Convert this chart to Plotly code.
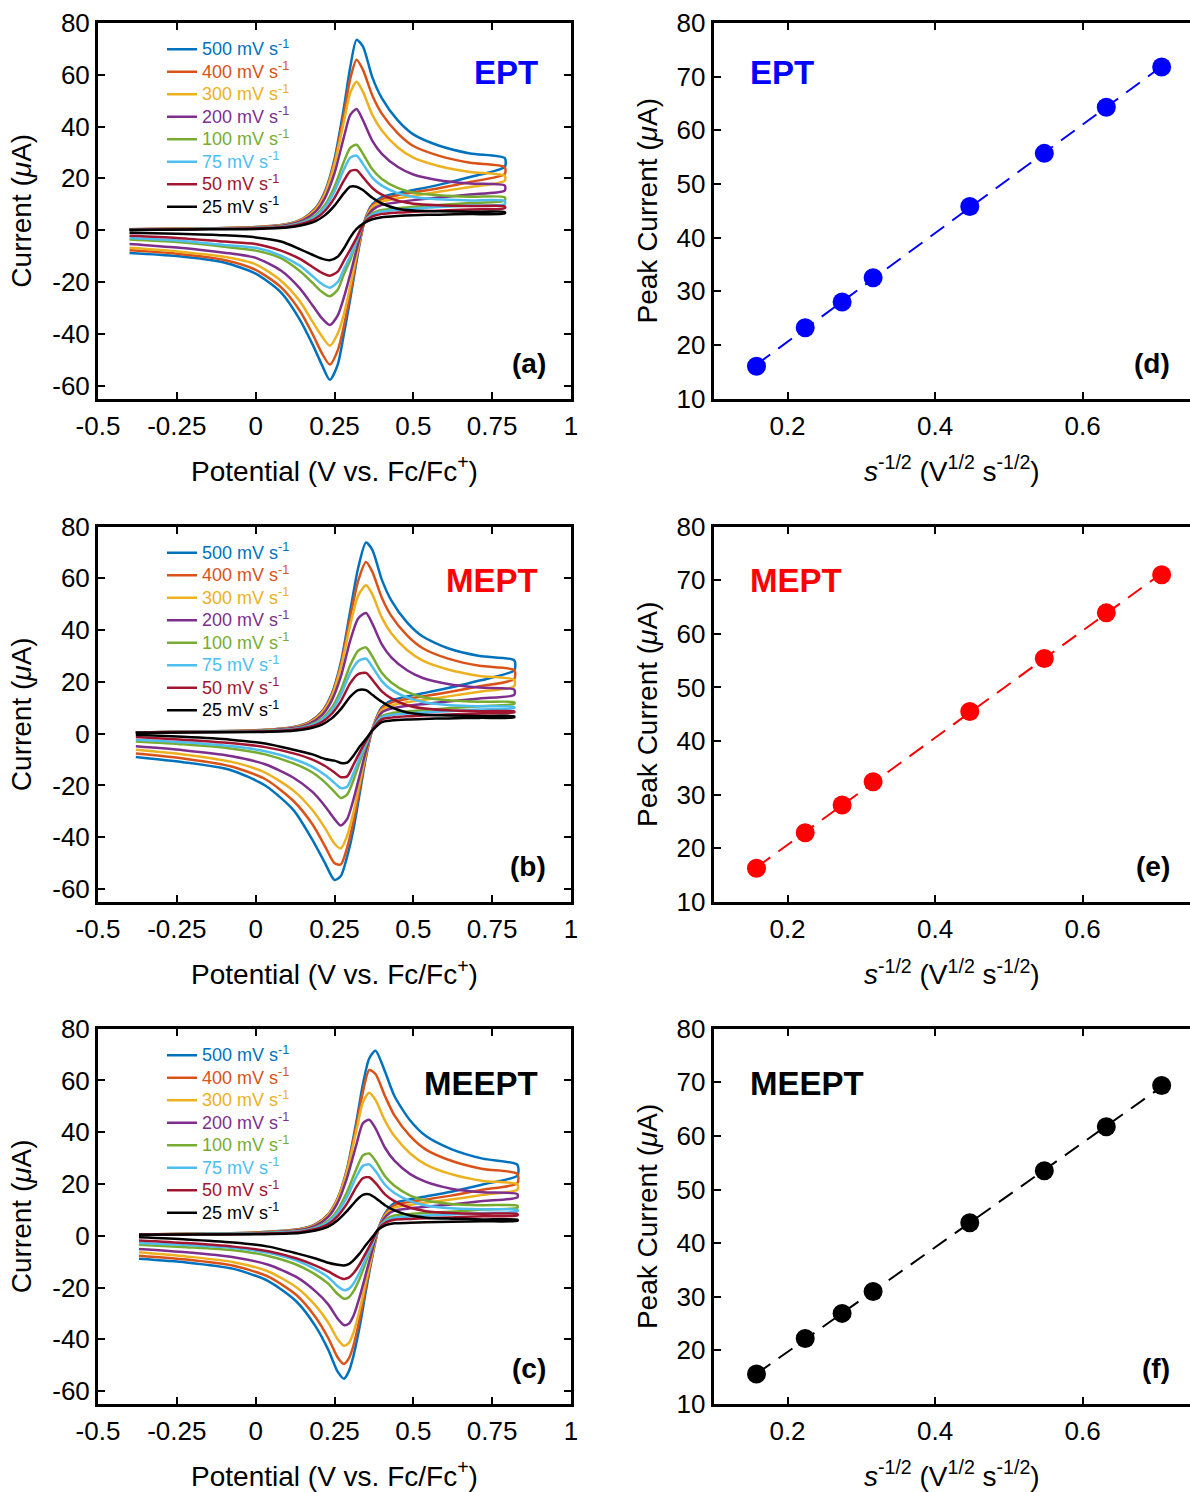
import numpy as np
import plotly.graph_objects as go
from plotly.subplots import make_subplots

W, H = 1190, 1492
FONT = "Liberation Sans, Arial, sans-serif"

rates = ["500", "400", "300", "200", "100", "75", "50", "25"]
colors = ["#0072BD", "#D95319", "#EDB120", "#7E2F8E", "#77AC30", "#4DBEEE", "#A2142F", "#000000"]

# ---------------- panel (a) EPT ----------------
Ea_fwd = [-0.40, -0.20, 0.00, 0.10, 0.15, 0.19, 0.22, 0.25, 0.28, 0.30, 0.32, 0.34, 0.37, 0.40, 0.45, 0.50, 0.58, 0.68, 0.79]
Ia_fwd = [
    [0.4, 0.6, 1.2, 2.4, 4.5, 8.5, 15.0, 27.5, 47.5, 63.0, 73.5, 71.0, 59.0, 51.0, 42.5, 37.0, 32.7, 29.6, 27.8],
    [0.4, 0.6, 1.2, 2.3, 4.4, 8.3, 14.5, 26.5, 45.0, 58.5, 65.8, 62.0, 52.0, 45.0, 37.5, 32.5, 28.8, 26.0, 24.3],
    [0.4, 0.6, 1.1, 2.2, 4.2, 8.0, 14.0, 25.5, 42.0, 53.0, 57.3, 53.5, 44.5, 38.5, 32.0, 28.0, 24.8, 22.5, 21.0],
    [0.4, 0.5, 1.0, 2.0, 3.8, 7.2, 12.5, 22.0, 36.0, 44.5, 46.8, 42.5, 34.5, 29.5, 24.5, 21.5, 19.3, 18.0, 17.2],
    [0.3, 0.5, 0.9, 1.6, 3.2, 5.8, 9.8, 16.8, 26.5, 31.8, 33.0, 29.5, 23.5, 19.8, 16.3, 14.5, 13.5, 12.9, 12.7],
    [0.3, 0.5, 0.8, 1.5, 3.0, 5.3, 8.8, 15.0, 23.5, 28.0, 28.8, 25.6, 20.3, 17.2, 14.3, 12.8, 11.9, 11.5, 11.3],
    [0.2, 0.4, 0.7, 1.3, 2.6, 4.5, 7.5, 12.5, 19.2, 22.8, 23.2, 20.5, 16.3, 13.7, 11.4, 10.2, 9.6, 9.3, 9.2],
    [0.1, 0.3, 0.5, 1.0, 2.0, 3.5, 5.8, 9.5, 14.3, 16.8, 16.8, 15.5, 12.5, 10.3, 8.3, 7.6, 7.3, 7.1, 7.0],
]
Ea_rev = [0.79, 0.68, 0.58, 0.50, 0.45, 0.40, 0.37, 0.345, 0.32, 0.30, 0.28, 0.26, 0.235, 0.21, 0.18, 0.14, 0.08, 0.00, -0.10, -0.25, -0.40]
Ia_rev = [
    [24.5, 20.5, 17.5, 15.5, 14.3, 12.8, 10.0, 3.5, -12.0, -26.5, -40.0, -52.0, -57.8, -52.0, -44.0, -34.5, -24.0, -16.8, -12.5, -10.0, -8.8],
    [21.7, 18.6, 16.2, 14.6, 13.5, 12.0, 9.5, 3.3, -11.0, -24.5, -36.9, -46.5, -51.9, -47.5, -40.0, -31.1, -22.0, -15.3, -11.5, -9.1, -7.8],
    [19.1, 16.7, 14.8, 13.3, 12.3, 11.0, 8.8, 3.2, -9.5, -21.5, -32.4, -40.0, -44.6, -41.0, -35.3, -27.4, -19.5, -13.2, -10.3, -8.2, -6.8],
    [15.3, 13.8, 12.6, 11.6, 10.8, 9.8, 7.8, 3.2, -7.5, -17.0, -25.9, -33.0, -36.6, -34.0, -29.0, -22.5, -15.6, -10.7, -8.7, -6.7, -5.3],
    [11.4, 10.5, 9.7, 9.0, 8.5, 7.8, 6.5, 3.2, -4.5, -11.5, -16.9, -23.0, -25.5, -23.8, -20.3, -15.8, -10.8, -7.9, -6.4, -4.6, -3.6],
    [10.1, 9.5, 8.9, 8.3, 7.9, 7.2, 6.0, 3.2, -4.0, -10.0, -15.0, -20.0, -22.2, -20.8, -17.7, -13.7, -9.8, -6.8, -5.7, -4.0, -3.0],
    [8.5, 8.0, 7.5, 7.1, 6.8, 6.3, 5.3, 3.0, -3.0, -7.5, -11.8, -16.0, -17.6, -16.5, -14.2, -11.1, -7.9, -5.3, -4.4, -3.0, -2.2],
    [6.5, 6.2, 6.0, 5.8, 5.5, 5.0, 4.2, 2.8, 0.5, -2.8, -7.0, -10.3, -11.6, -11.0, -9.5, -7.3, -4.4, -2.8, -2.0, -1.4, -1.0],
]

# ---------------- panel (b) MEPT ----------------
Eb_fwd = [-0.38, -0.20, 0.00, 0.12, 0.17, 0.21, 0.24, 0.27, 0.30, 0.325, 0.35, 0.37, 0.40, 0.43, 0.48, 0.53, 0.61, 0.71, 0.82]
Ib_fwd = [
    [0.5, 0.8, 1.3, 2.6, 4.5, 8.5, 15.0, 27.5, 47.5, 64.0, 73.8, 71.0, 59.5, 51.5, 43.0, 37.5, 33.0, 30.0, 28.3],
    [0.5, 0.8, 1.3, 2.5, 4.4, 8.3, 14.5, 26.5, 45.0, 59.0, 66.3, 62.5, 52.5, 45.5, 38.0, 33.0, 29.0, 26.2, 24.5],
    [0.5, 0.8, 1.2, 2.4, 4.2, 8.0, 14.0, 25.5, 42.0, 53.3, 57.3, 53.8, 44.8, 38.8, 32.3, 28.2, 24.8, 22.3, 20.8],
    [0.5, 0.7, 1.1, 2.2, 3.8, 7.2, 12.5, 22.0, 36.0, 44.5, 46.6, 42.5, 34.5, 29.5, 24.5, 21.5, 19.2, 17.8, 17.0],
    [0.5, 0.7, 1.0, 1.8, 3.2, 5.8, 9.8, 16.8, 26.5, 32.0, 33.3, 29.8, 23.5, 19.8, 16.1, 14.1, 12.9, 12.3, 12.1],
    [0.5, 0.7, 0.9, 1.7, 3.0, 5.3, 8.8, 15.0, 23.5, 28.0, 29.0, 25.8, 20.3, 17.0, 14.0, 12.2, 11.1, 10.6, 10.3],
    [0.5, 0.6, 0.8, 1.5, 2.6, 4.5, 7.5, 12.5, 19.5, 23.0, 23.5, 20.8, 16.3, 13.6, 11.0, 9.8, 9.0, 8.7, 8.6],
    [0.4, 0.5, 0.6, 1.1, 2.0, 3.5, 5.8, 9.5, 14.3, 16.8, 16.8, 15.0, 12.3, 10.2, 8.2, 7.4, 7.0, 6.8, 6.7],
]
Eb_rev = [0.82, 0.71, 0.61, 0.53, 0.48, 0.43, 0.40, 0.372, 0.35, 0.33, 0.31, 0.29, 0.27, 0.25, 0.22, 0.18, 0.12, 0.03, -0.08, -0.23, -0.38]
Ib_rev = [
    [24.5, 20.5, 17.6, 15.6, 14.4, 12.8, 10.2, 2.5, -9.0, -23.0, -37.0, -47.5, -55.0, -56.5, -50.0, -41.0, -29.5, -20.0, -14.0, -11.0, -9.0],
    [21.1, 18.3, 16.0, 14.4, 13.4, 12.0, 9.7, 2.4, -8.3, -21.0, -34.0, -44.0, -50.5, -50.0, -43.5, -35.0, -26.0, -17.5, -12.6, -9.6, -7.7],
    [18.3, 16.2, 14.4, 13.0, 12.1, 10.9, 9.0, 2.3, -7.5, -19.0, -30.5, -39.5, -44.3, -42.5, -36.5, -29.5, -22.0, -15.0, -10.8, -8.0, -6.2],
    [15.0, 13.6, 12.4, 11.4, 10.7, 9.7, 8.2, 2.2, -6.5, -16.0, -25.5, -33.0, -35.5, -33.0, -28.0, -22.5, -17.0, -11.8, -8.6, -6.4, -4.9],
    [11.5, 10.6, 9.8, 9.1, 8.6, 7.9, 6.8, 2.0, -4.5, -11.0, -18.0, -23.5, -24.8, -22.5, -18.8, -15.0, -11.5, -8.0, -5.7, -4.1, -3.0],
    [9.9, 9.3, 8.7, 8.2, 7.8, 7.2, 6.3, 2.0, -3.8, -9.3, -15.3, -20.5, -21.0, -19.0, -16.0, -12.8, -9.8, -6.8, -4.8, -3.3, -2.3],
    [8.2, 7.8, 7.4, 7.0, 6.7, 6.2, 5.5, 1.8, -2.8, -7.2, -12.0, -16.5, -16.8, -15.0, -12.5, -10.0, -7.6, -5.2, -3.6, -2.3, -1.3],
    [6.3, 6.1, 5.9, 5.7, 5.5, 5.1, 4.5, 1.5, -2.0, -5.0, -8.5, -11.2, -11.3, -10.4, -9.8, -8.0, -6.2, -3.8, -2.3, -1.2, -0.4],
]

# ---------------- panel (c) MEEPT ----------------
Ec_fwd = [-0.37, -0.20, 0.00, 0.14, 0.19, 0.23, 0.26, 0.29, 0.32, 0.34, 0.36, 0.38, 0.41, 0.44, 0.49, 0.54, 0.62, 0.72, 0.83]
Ic_fwd = [
    [0.5, 0.8, 1.3, 2.6, 4.5, 8.3, 14.5, 26.0, 44.5, 58.5, 68.5, 71.5, 63.5, 54.0, 44.5, 38.5, 33.5, 29.8, 27.4],
    [0.5, 0.8, 1.3, 2.5, 4.4, 8.2, 14.3, 25.5, 43.0, 55.5, 64.0, 62.5, 54.0, 46.5, 38.5, 33.3, 29.0, 25.8, 23.9],
    [0.5, 0.8, 1.2, 2.4, 4.2, 8.0, 14.0, 25.0, 41.0, 51.5, 55.3, 52.5, 44.5, 38.5, 31.8, 27.5, 23.8, 21.2, 19.9],
    [0.5, 0.7, 1.1, 2.2, 3.9, 7.3, 12.8, 22.5, 35.5, 43.5, 44.8, 41.5, 34.0, 29.0, 23.8, 20.8, 18.2, 16.8, 16.1],
    [0.5, 0.7, 1.0, 1.8, 3.2, 5.8, 10.0, 17.0, 26.0, 31.0, 31.8, 29.0, 23.0, 19.3, 15.5, 13.6, 12.3, 11.8, 11.6],
    [0.5, 0.7, 0.9, 1.7, 3.0, 5.3, 9.0, 15.0, 23.0, 27.0, 27.6, 25.0, 19.7, 16.5, 13.4, 11.7, 10.6, 10.2, 10.0],
    [0.5, 0.6, 0.8, 1.5, 2.6, 4.5, 7.6, 12.5, 19.0, 22.2, 22.6, 20.4, 16.0, 13.4, 10.8, 9.5, 8.8, 8.5, 8.4],
    [0.4, 0.5, 0.6, 1.1, 2.0, 3.5, 6.0, 9.6, 13.8, 15.8, 16.0, 14.6, 11.8, 9.8, 7.8, 7.0, 6.6, 6.3, 6.2],
]
Ec_rev = [0.83, 0.72, 0.62, 0.54, 0.49, 0.44, 0.415, 0.39, 0.37, 0.35, 0.33, 0.31, 0.295, 0.28, 0.26, 0.23, 0.19, 0.13, 0.04, -0.07, -0.22, -0.37]
Ic_rev = [
    [23.3, 19.8, 17.0, 15.2, 14.1, 12.6, 9.5, 3.0, -8.0, -21.0, -35.0, -46.5, -52.5, -55.2, -52.5, -44.0, -35.0, -25.5, -17.5, -12.8, -10.3, -8.9],
    [20.3, 17.8, 15.5, 14.0, 13.1, 11.8, 9.0, 3.0, -7.5, -19.5, -32.0, -42.5, -47.5, -49.5, -47.0, -39.5, -31.5, -23.0, -15.8, -11.6, -9.2, -7.7],
    [17.8, 15.8, 14.0, 12.8, 12.0, 10.9, 8.5, 3.0, -7.0, -17.5, -28.5, -37.5, -41.5, -42.5, -40.0, -33.5, -27.0, -20.0, -13.8, -10.2, -8.0, -6.4],
    [14.8, 13.4, 12.1, 11.2, 10.6, 9.7, 7.8, 3.0, -5.5, -14.5, -23.5, -31.0, -34.0, -34.5, -32.0, -26.5, -21.5, -16.0, -11.2, -8.3, -6.4, -5.1],
    [10.9, 10.1, 9.3, 8.8, 8.4, 7.8, 6.5, 3.0, -3.5, -10.0, -16.5, -21.5, -23.8, -24.3, -22.5, -18.5, -15.0, -11.2, -7.8, -5.6, -4.4, -3.5],
    [9.4, 8.8, 8.2, 7.8, 7.4, 7.0, 6.0, 3.0, -3.0, -8.5, -14.0, -18.5, -20.5, -21.0, -19.5, -16.0, -13.0, -9.6, -6.6, -4.7, -3.6, -2.8],
    [7.9, 7.5, 7.1, 6.8, 6.5, 6.2, 5.3, 2.8, -2.0, -6.5, -11.0, -14.5, -16.2, -16.7, -15.8, -13.8, -11.5, -8.8, -6.0, -4.2, -2.8, -1.8],
    [5.8, 5.6, 5.4, 5.2, 5.0, 4.8, 4.2, 2.5, -0.5, -3.5, -6.8, -9.5, -11.0, -11.5, -11.2, -10.4, -8.8, -6.8, -4.2, -2.6, -1.4, -0.6],
]

# ---------------- peak current panels (d)-(f) ----------------
sqrt_rate = [0.158, 0.224, 0.274, 0.316, 0.447, 0.548, 0.632, 0.707]
ip_EPT = [16.0, 23.2, 28.0, 32.5, 45.8, 55.7, 64.3, 71.8]
ip_MEPT = [16.3, 22.9, 28.1, 32.4, 45.5, 55.4, 63.9, 71.0]
ip_MEEPT = [15.6, 22.2, 26.9, 31.0, 43.8, 53.5, 61.7, 69.4]

cv_tick_vals = [-0.5, -0.25, 0, 0.25, 0.5, 0.75, 1]
cv_tick_text = ["-0.5", "-0.25", "0", "0.25", "0.5", "0.75", "1"]
cur_tick_vals = [-60, -40, -20, 0, 20, 40, 60, 80]
cur_tick_text = ["-60", "-40", "-20", "0", "20", "40", "60", "80"]
sr_tick_vals = [0.2, 0.4, 0.6]
sr_tick_text = ["0.2", "0.4", "0.6"]
ip_tick_vals = [10, 20, 30, 40, 50, 60, 70, 80]

fig = make_subplots(rows=3, cols=2)


def px2x(px):
    return px / W


def px2y(py):
    return 1 - py / H


rows_px = [(23, 398.5), (526.5, 902), (1028.7, 1404)]
left_px = (98, 571)
right_px = (713.7, 1190)

cv_sets = [
    (Ea_fwd, Ia_fwd, Ea_rev, Ia_rev, "legend"),
    (Eb_fwd, Ib_fwd, Eb_rev, Ib_rev, "legend2"),
    (Ec_fwd, Ic_fwd, Ec_rev, Ic_rev, "legend3"),
]

for r, (Ef, If, Er, Ir, lg) in enumerate(cv_sets, start=1):
    for k in range(len(rates)):
        name = (f'<span style="color:{colors[k]};font-size:18px">'
                f'{rates[k]} mV s<sup>-1</sup></span>')
        fig.add_trace(
            go.Scatter(
                x=Ef + Er, y=If[k] + Ir[k], mode="lines",
                line=dict(color=colors[k], width=2.5, shape="spline", smoothing=0.7),
                name=name, legend=lg, showlegend=True,
            ),
            row=r, col=1,
        )

peak_sets = [(ip_EPT, "#0000FF"), (ip_MEPT, "#FF0000"), (ip_MEEPT, "#000000")]
for r, (ip, c) in enumerate(peak_sets, start=1):
    slope, icpt = np.polyfit(sqrt_rate, ip, 1)
    xf = [sqrt_rate[0], sqrt_rate[-1]]
    yf = [slope * v + icpt for v in xf]
    fig.add_trace(
        go.Scatter(x=xf, y=yf, mode="lines", line=dict(color=c, width=2, dash="17px,10px"), showlegend=False),
        row=r, col=2,
    )
    fig.add_trace(
        go.Scatter(x=sqrt_rate, y=ip, mode="markers", marker=dict(color=c, size=19), showlegend=False),
        row=r, col=2,
    )

axis_common = dict(
    showline=True, linewidth=3, linecolor="black", mirror="ticks",
    ticks="inside", ticklen=7, tickwidth=2, tickcolor="black",
    showgrid=False, zeroline=False, automargin=False,
    tickfont=dict(family=FONT, size=26, color="black"),
    title_font=dict(family=FONT, size=28, color="black"),
)

for r in range(1, 4):
    top, bot = rows_px[r - 1]
    ydom = [px2y(bot), px2y(top)]
    fig.update_xaxes(
        row=r, col=1, domain=[px2x(left_px[0]), px2x(left_px[1])], range=[-0.5, 1],
        tickvals=cv_tick_vals, ticktext=cv_tick_text, ticklabelstandoff=2,
        title=dict(text="Potential (V vs. Fc/Fc<sup>+</sup>)", standoff=22), **axis_common,
    )
    fig.update_yaxes(
        row=r, col=1, domain=ydom, range=[-65, 80],
        tickvals=cur_tick_vals, ticktext=cur_tick_text,
        title=dict(text="Current (<i>μ</i>A)", standoff=13), **axis_common,
    )
    fig.update_xaxes(
        row=r, col=2, domain=[px2x(right_px[0]), 1.0], range=[0.1, 0.7454],
        tickvals=sr_tick_vals, ticktext=sr_tick_text, ticklabelstandoff=2,
        title=dict(text="<i>s</i><sup>-1/2</sup> (V<sup>1/2</sup> s<sup>-1/2</sup>)", standoff=22), **axis_common,
    )
    rc = dict(axis_common)
    rc["mirror"] = False
    fig.update_yaxes(
        row=r, col=2, domain=ydom, range=[10, 80],
        tickvals=ip_tick_vals,
        title=dict(text="Peak Current (<i>μ</i>A)", standoff=11), **rc,
    )

# right-hand tick marks of the peak-current panels (frame edge lies just off the page)
for i, (ya, xa) in enumerate([("y2", "x2"), ("y4", "x4"), ("y6", "x6")]):
    top, bot = rows_px[i]
    fig.update_layout(**{
        f"yaxis{7 + i}": dict(
            overlaying=ya, anchor=xa, side="right", domain=[px2y(bot), px2y(top)],
            range=[10, 80], tickvals=ip_tick_vals, showticklabels=False,
            ticks="inside", ticklen=7, tickwidth=2, tickcolor="black",
            showline=False, showgrid=False, zeroline=False, automargin=False,
        )
    })

legend_common = dict(
    xanchor="left", yanchor="top", bgcolor="rgba(0,0,0,0)", borderwidth=0,
    font=dict(family=FONT, size=15), tracegroupgap=0, itemwidth=30,
)
fig.update_layout(
    legend=dict(x=px2x(162), y=px2y(33), **legend_common),
    legend2=dict(x=px2x(162), y=px2y(536.5), **legend_common),
    legend3=dict(x=px2x(162), y=px2y(1039), **legend_common),
)

ann = []
labels = [
    ("EPT", "#0000FF", "(a)", "(d)", 72, 363),
    ("MEPT", "#FF0000", "(b)", "(e)", 580, 866),
    ("MEEPT", "#000000", "(c)", "(f)", 1083, 1368),
]
for name, c, lab_l, lab_r, ty, ly in labels:
    ann.append(dict(x=px2x(540), y=px2y(ty), xref="paper", yref="paper", xanchor="right", yanchor="middle",
                    text=f"<b>{name}</b>", showarrow=False, font=dict(family=FONT, size=33, color=c)))
    ann.append(dict(x=px2x(748), y=px2y(ty), xref="paper", yref="paper", xanchor="left", yanchor="middle",
                    text=f"<b>{name}</b>", showarrow=False, font=dict(family=FONT, size=33, color=c)))
    ann.append(dict(x=px2x(548), y=px2y(ly), xref="paper", yref="paper", xanchor="right", yanchor="middle",
                    text=f"<b>{lab_l}</b>", showarrow=False, font=dict(family=FONT, size=28, color="black")))
    ann.append(dict(x=px2x(1172), y=px2y(ly), xref="paper", yref="paper", xanchor="right", yanchor="middle",
                    text=f"<b>{lab_r}</b>", showarrow=False, font=dict(family=FONT, size=28, color="black")))

fig.update_layout(
    width=W, height=H, margin=dict(l=0, r=0, t=0, b=0, autoexpand=False),
    paper_bgcolor="white", plot_bgcolor="white",
    annotations=ann, font=dict(family=FONT, color="black"),
)

fig.write_html("out.html")
